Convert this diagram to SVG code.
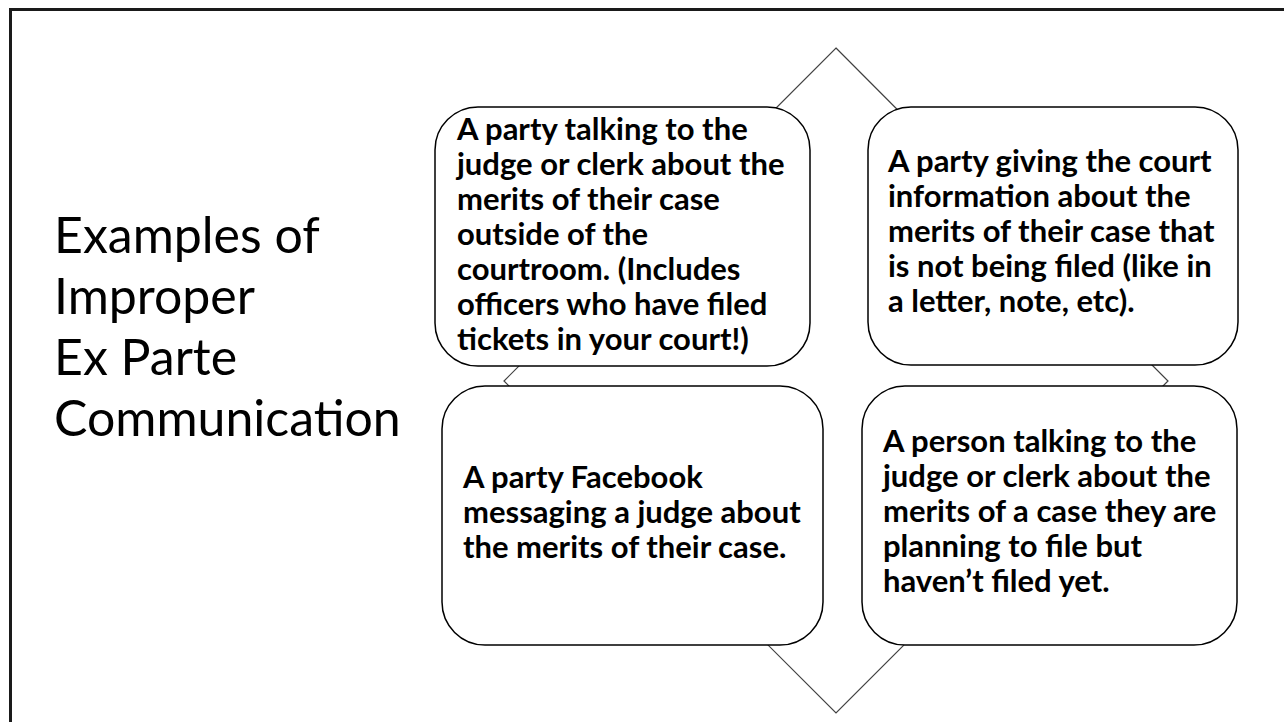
<svg xmlns="http://www.w3.org/2000/svg" width="1284" height="722" viewBox="0 0 1284 722">
  <style>
    .frame { fill: none; stroke: #1a1a1a; stroke-width: 3; }
    .diamond { fill: none; stroke: #404040; stroke-width: 1.2; }
    .box { fill: #ffffff; stroke: #000000; stroke-width: 1.5; }
    .title { font-family: Lato, "Liberation Sans", sans-serif; font-weight: 400; font-size: 50px; fill: #000000; }
    .label { font-family: Lato, "Liberation Sans", sans-serif; font-weight: 700; font-size: 31px; fill: #000000; }
  </style>
  <rect x="0" y="0" width="1284" height="722" fill="#ffffff"/>
  <g id="frame">
    <polyline class="frame" points="10.5,730 10.5,9.5 1290,9.5"/>
  </g>
  <g id="title">
    <text class="title">
      <tspan x="54" y="253">Examples of</tspan>
      <tspan x="54" y="314">Improper</tspan>
      <tspan x="54" y="375">Ex Parte</tspan>
      <tspan x="54" y="436">Communication</tspan>
    </text>
  </g>
  <g id="connectors">
    <polygon class="diamond" points="836,48 1168,381 836,713 504,381"/>
  </g>
  <g id="node-1">
    <rect class="box" x="435" y="107" width="375" height="259" rx="43" ry="43"/>
    <text class="label">
      <tspan x="457" y="140">A party talking to the</tspan>
      <tspan x="457" y="175">judge or clerk about the</tspan>
      <tspan x="457" y="210">merits of their case</tspan>
      <tspan x="457" y="245">outside of the</tspan>
      <tspan x="457" y="280">courtroom. (Includes</tspan>
      <tspan x="457" y="315">officers who have filed</tspan>
      <tspan x="457" y="350">tickets in your court!)</tspan>
    </text>
  </g>
  <g id="node-2">
    <rect class="box" x="868" y="107" width="370" height="258" rx="43" ry="43"/>
    <text class="label">
      <tspan x="888" y="172">A party giving the court</tspan>
      <tspan x="888" y="207">information about the</tspan>
      <tspan x="888" y="242">merits of their case that</tspan>
      <tspan x="888" y="277">is not being filed (like in</tspan>
      <tspan x="888" y="312">a letter, note, etc).</tspan>
    </text>
  </g>
  <g id="node-3">
    <rect class="box" x="442" y="386" width="381" height="259" rx="43" ry="43"/>
    <text class="label">
      <tspan x="463" y="488">A party Facebook</tspan>
      <tspan x="463" y="523">messaging a judge about</tspan>
      <tspan x="463" y="558">the merits of their case.</tspan>
    </text>
  </g>
  <g id="node-4">
    <rect class="box" x="862" y="386" width="375" height="259" rx="43" ry="43"/>
    <text class="label">
      <tspan x="883" y="452">A person talking to the</tspan>
      <tspan x="883" y="487">judge or clerk about the</tspan>
      <tspan x="883" y="522">merits of a case they are</tspan>
      <tspan x="883" y="557">planning to file but</tspan>
      <tspan x="883" y="592">haven’t filed yet.</tspan>
    </text>
  </g>
</svg>
